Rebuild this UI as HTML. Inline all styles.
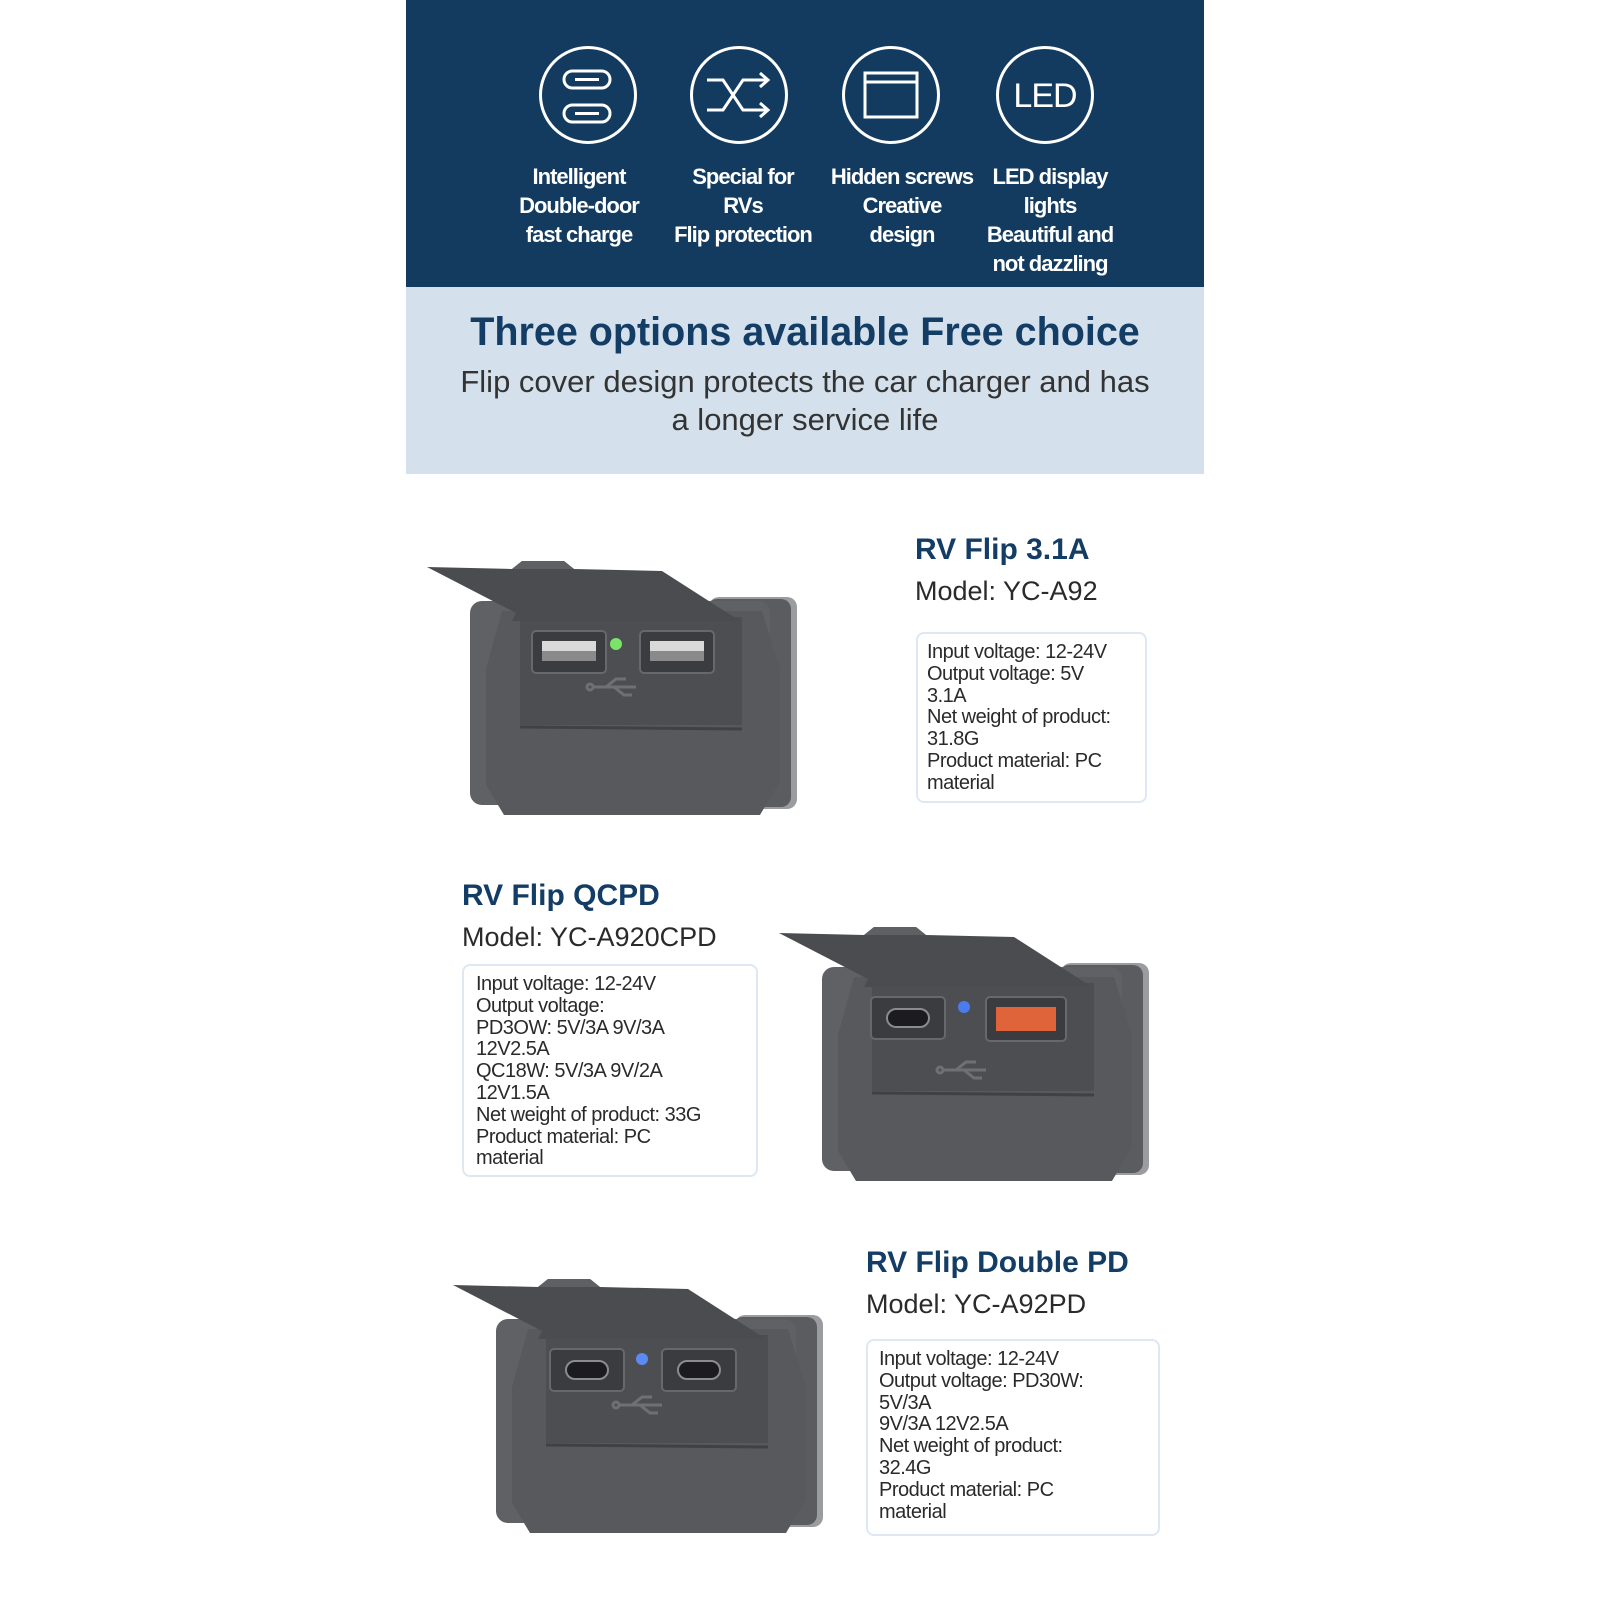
<!DOCTYPE html>
<html><head><meta charset="utf-8"><style>
body{margin:0;width:1600px;height:1600px;background:#fff;position:relative;overflow:hidden;font-family:"Liberation Sans",Arial,sans-serif}
.a{position:absolute}
.top{left:406px;top:0;width:798px;height:287px;background:#133b60}
.lite{left:406px;top:287px;width:798px;height:187px;background:#d4e1ec}
.ic{position:absolute;width:98px;height:98px;border:3px solid #fff;border-radius:50%;box-sizing:border-box}
.lab{position:absolute;color:#fff;font-size:22px;line-height:29px;text-align:center;width:170px;letter-spacing:-1px;font-weight:bold}
.h{position:absolute;color:#143d66;font-weight:bold;font-size:30px;white-space:nowrap}
.m{position:absolute;color:#2a2a2a;font-size:27px;white-space:nowrap}
.box{position:absolute;border:2px solid #dde8f2;border-radius:8px;box-sizing:border-box;padding:8px 0 0 9px;font-size:20px;line-height:21.8px;color:#2a2a2a;letter-spacing:-0.5px}
</style></head><body>
<div class="a top"></div>
<div class="a lite"></div>

<div class="ic" style="left:539px;top:46px"></div>
<div class="ic" style="left:690px;top:46px"></div>
<div class="ic" style="left:842px;top:46px"></div>
<div class="ic" style="left:996px;top:46px"></div>
<svg class="a" style="left:-2px;top:0" width="1600" height="300">
<g fill="none" stroke="#fff" stroke-width="3">
<rect x="566" y="71" width="46" height="17" rx="8.5"/><line x1="577" y1="79.5" x2="601" y2="79.5"/>
<rect x="566" y="105" width="46" height="17" rx="8.5"/><line x1="577" y1="113.5" x2="601" y2="113.5"/>
<path d="M709 80 h16 l20 30 h25 M709 110 h16 l20 -30 h25 M762 73 l8 7 -8 7 M762 103 l8 7 -8 7"/>
<rect x="867" y="73" width="52" height="44"/><line x1="867" y1="82" x2="919" y2="82"/>
</g>
<text x="1047" y="107" fill="#fff" font-size="34" text-anchor="middle" font-family="Liberation Sans" letter-spacing="-1">LED</text>
</svg>
<div class="lab" style="left:494px;top:162px">Intelligent<br>Double-door<br>fast charge</div>
<div class="lab" style="left:658px;top:162px">Special for<br>RVs<br>Flip protection</div>
<div class="lab" style="left:817px;top:162px">Hidden screws<br>Creative<br>design</div>
<div class="lab" style="left:965px;top:162px">LED display<br>lights<br>Beautiful and<br>not dazzling</div>

<div class="a" style="left:406px;top:310px;width:798px;text-align:center;color:#143d66;font-weight:bold;font-size:39.5px">Three options available Free choice</div>
<div class="a" style="left:406px;top:363px;width:798px;text-align:center;color:#333;font-size:31px;line-height:38px">Flip cover design protects the car charger and has<br>a longer service life</div>

<svg width="0" height="0" style="position:absolute"><defs>
<g id="dev">
<rect x="285" y="38" width="88" height="212" rx="10" fill="#9a9ca0"/>
<rect x="283" y="40" width="84" height="208" rx="10" fill="#5a5c60"/>
<rect x="46" y="42" width="300" height="204" rx="12" fill="#5f6165"/>
<polygon points="78,52 338,52 356,110 356,222 336,256 80,256 62,226 62,110" fill="#57595d"/>
<rect x="96" y="58" width="222" height="108" fill="#4c4e52"/>
<line x1="96" y1="168" x2="318" y2="170" stroke="#3f4144" stroke-width="3"/>
<polygon points="3,8 88,10 98,2 140,2 150,10 238,12 316,62 88,62 92,54" fill="#4a4c50"/>
<polygon points="98,2 140,2 150,10 88,10" fill="#5e6064"/>
</g>
<g id="usbsym" fill="none" stroke="#6e7074" stroke-width="3"><path d="M-22 0 h44 M-8 0 l10 -8 h10 M0 0 l10 8 h8"/><circle cx="-24" cy="0" r="3"/></g>
<g id="pa"><rect x="0" y="0" width="74" height="42" rx="4" fill="#3a3c40" stroke="#66686c" stroke-width="2"/><rect x="10" y="10" width="54" height="20" fill="#d9d9d9"/><rect x="10" y="20" width="54" height="10" fill="#8a8a8a"/></g>
<g id="pc"><rect x="0" y="0" width="74" height="42" rx="4" fill="#3a3c40" stroke="#66686c" stroke-width="2"/><rect x="16" y="12" width="42" height="18" rx="9" fill="#1c1c1e" stroke="#8a8c90" stroke-width="2"/></g>
</defs></svg>

<svg class="a" style="left:424px;top:559px" width="376" height="262" viewBox="0 0 376 262">
<use href="#dev"/>
<use href="#pa" x="108" y="72"/><use href="#pa" x="216" y="72"/>
<circle cx="192" cy="85" r="6" fill="#7be36a"/>
<use href="#usbsym" x="190" y="128"/>
</svg>
<div class="h" style="left:915px;top:533px">RV Flip 3.1A</div>
<div class="m" style="left:915px;top:576px">Model: YC-A92</div>
<div class="box" style="left:916px;top:632px;width:231px;height:171px">Input voltage: 12-24V<br>Output voltage: 5V<br>3.1A<br>Net weight of product:<br>31.8G<br>Product material: PC<br>material</div>

<div class="h" style="left:462px;top:879px">RV Flip QCPD</div>
<div class="m" style="left:462px;top:922px">Model: YC-A920CPD</div>
<div class="box" style="left:462px;top:964px;width:296px;height:213px;padding-left:12px">Input voltage: 12-24V<br>Output voltage:<br>PD3OW: 5V/3A 9V/3A<br>12V2.5A<br>QC18W: 5V/3A 9V/2A<br>12V1.5A<br>Net weight of product: 33G<br>Product material: PC<br>material</div>
<svg class="a" style="left:776px;top:925px" width="376" height="262" viewBox="0 0 376 262">
<use href="#dev"/>
<use href="#pc" x="95" y="72"/>
<rect x="210" y="72" width="80" height="44" rx="4" fill="#3a3c40" stroke="#66686c" stroke-width="2"/><rect x="220" y="82" width="60" height="24" fill="#e0643a"/>
<circle cx="188" cy="82" r="6" fill="#4a7cf0"/>
<use href="#usbsym" x="188" y="145"/>
</svg>

<div class="h" style="left:866px;top:1246px">RV Flip Double PD</div>
<div class="m" style="left:866px;top:1289px">Model: YC-A92PD</div>
<div class="box" style="left:866px;top:1339px;width:294px;height:197px;padding-left:11px">Input voltage: 12-24V<br>Output voltage: PD30W:<br>5V/3A<br>9V/3A 12V2.5A<br>Net weight of product:<br>32.4G<br>Product material: PC<br>material</div>
<svg class="a" style="left:450px;top:1277px" width="376" height="262" viewBox="0 0 376 262">
<use href="#dev"/>
<use href="#pc" x="100" y="72"/><use href="#pc" x="212" y="72"/>
<circle cx="192" cy="82" r="6" fill="#5b8af2"/>
<use href="#usbsym" x="190" y="128"/>
</svg>
</body></html>
